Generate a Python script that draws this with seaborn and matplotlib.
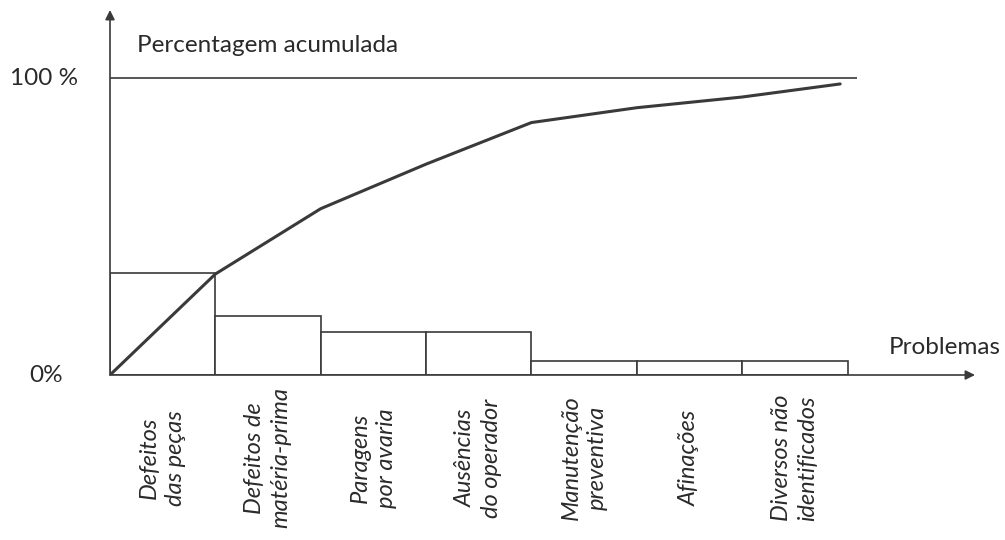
import seaborn as sns
import pandas as pd
import matplotlib.pyplot as plt

# problemas e percentagens
problemas = ['Defeitos\ndas peças', 'Defeitos de\nmatéria-prima', 'Paragens\npor avaria',
             'Ausências\ndo operador', 'Manutenção\npreventiva', 'Afinações',
             'Diversos não\nidentificados']
percentagem = [34.3, 19.9, 14.5, 14.5, 4.7, 4.7, 4.7]
# percentagem acumulada nos limites das barras
acumulada_x = [-0.5, 0.5, 1.5, 2.5, 3.5, 4.5, 5.5, 6.43]
acumulada = [0, 34, 56, 71, 85, 90, 93.6, 98]

sns.set_style('white')
plt.rcParams['font.family'] = ['Lato', 'DejaVu Sans']
cor = '#3a3a3a'
cor_texto = '#2a2a2a'

df = pd.DataFrame({'Problema': problemas, 'Percentagem': percentagem})
linha = pd.DataFrame({'x': acumulada_x, 'y': acumulada})

fig = plt.figure(figsize=(10.05, 5.4), dpi=100)
ax = fig.add_axes([110 / 1005, 165 / 540, 865 / 1005, 365 / 540])

sns.barplot(data=df, x='Problema', y='Percentagem', width=1, color='white',
            edgecolor=cor, linewidth=1.2, ax=ax)
sns.lineplot(data=linha, x='x', y='y', color=cor, linewidth=2.2, ax=ax)
ax.hlines(100, -0.5, 6.59, color=cor, linewidth=1.2)

ax.set_xlim(-0.5, 7.71)
ax.set_ylim(0, 122.9)
ax.set_xticks([])
ax.set_yticks([])
ax.set_xlabel('')
ax.set_ylabel('')
sns.despine(ax=ax, left=True, bottom=True)

# eixos com setas
seta = dict(arrowstyle='-|>', color=cor, lw=1.2, mutation_scale=14, shrinkA=0, shrinkB=0)
ax.annotate('', xy=(1, 0), xytext=(0, 0), xycoords='axes fraction', arrowprops=seta)
ax.annotate('', xy=(0, 1), xytext=(0, 0), xycoords='axes fraction', arrowprops=seta)

ax.text(0.031, 0.902, 'Percentagem acumulada', transform=ax.transAxes, fontsize=17.5,
        color=cor_texto, ha='left', va='center')
ax.text(-0.037, 100, '100 %', transform=ax.get_yaxis_transform(), fontsize=17.5,
        color=cor_texto, ha='right', va='center')
ax.text(-0.055, 0, '0%', transform=ax.get_yaxis_transform(), fontsize=17.5,
        color=cor_texto, ha='right', va='center')
ax.text(1.03, 0.074, 'Problemas', transform=ax.transAxes, fontsize=17.5,
        color=cor_texto, ha='right', va='center')

for i, nome in enumerate(problemas):
    ax.text(i, -0.227, nome, transform=ax.get_xaxis_transform(), rotation=90,
            ha='center', va='center', multialignment='center', fontsize=17,
            style='italic', color=cor_texto, linespacing=1.3)

fig.savefig('out.png', dpi=100, facecolor='white')
